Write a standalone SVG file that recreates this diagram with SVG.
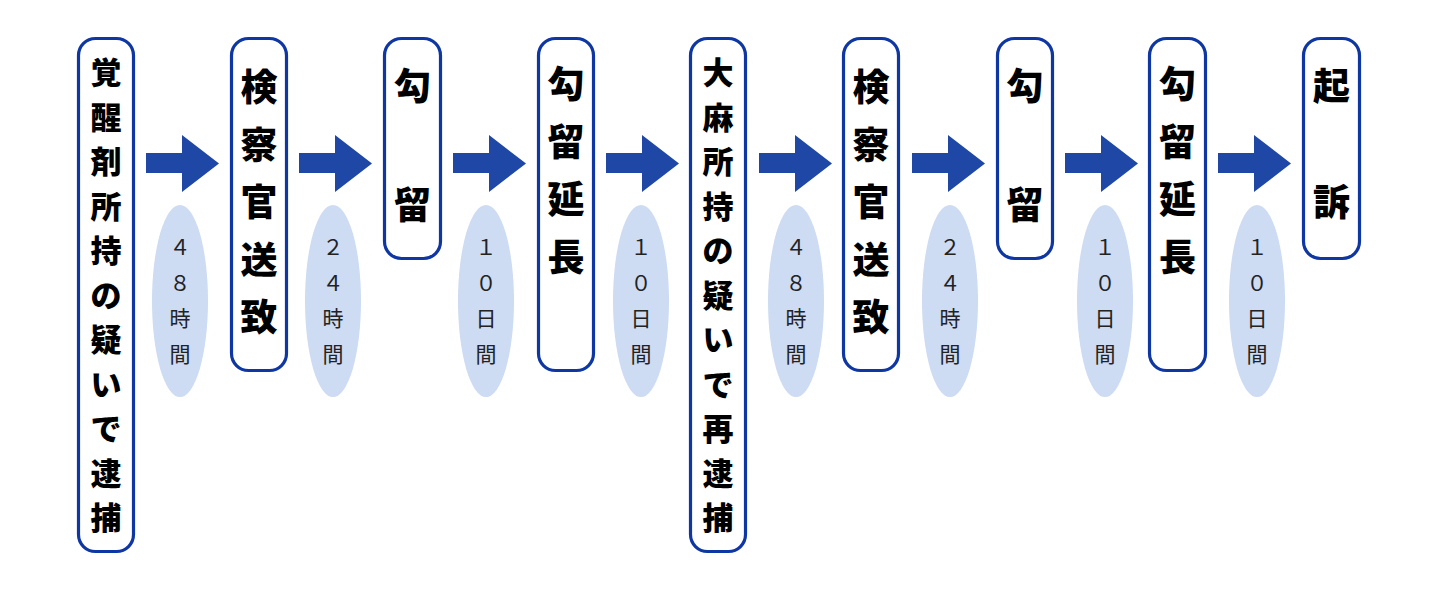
<svg xmlns="http://www.w3.org/2000/svg" width="1436" height="616" viewBox="0 0 1436 616">
<style>
.box{fill:#ffffff;stroke:#0f37a3;stroke-width:3.2}
.arrow{fill:#1f47a6}
.pill{fill:#cddbf3}
.big{font-family:"Noto Sans CJK JP","Noto Sans CJK SC",sans-serif;font-weight:900;fill:#000;text-anchor:middle;dominant-baseline:central}
.b31{font-size:31px}
.b37{font-size:37px}
.lab{font-family:"Noto Sans CJK JP","Noto Sans CJK SC",sans-serif;font-weight:400;font-size:21px;fill:#222;text-anchor:middle;dominant-baseline:central}
</style>
<rect width="1436" height="616" fill="#ffffff"/>
<g id="connectors">
  <g id="c1"><path class="arrow" d="M146,153 H182 V135 L219,163.5 L182,192 V173 H146 Z"/>
    <ellipse class="pill" cx="180" cy="301" rx="28" ry="96"/>
    <text class="lab"><tspan x="180" y="246">４</tspan><tspan x="180" y="281.5">８</tspan><tspan x="180" y="317">時</tspan><tspan x="180" y="352.5">間</tspan></text></g>
  <g id="c2"><path class="arrow" d="M299,153 H335 V135 L372,163.5 L335,192 V173 H299 Z"/>
    <ellipse class="pill" cx="333" cy="301" rx="28" ry="96"/>
    <text class="lab"><tspan x="333" y="246">２</tspan><tspan x="333" y="281.5">４</tspan><tspan x="333" y="317">時</tspan><tspan x="333" y="352.5">間</tspan></text></g>
  <g id="c3"><path class="arrow" d="M453,153 H489 V135 L526,163.5 L489,192 V173 H453 Z"/>
    <ellipse class="pill" cx="486" cy="301" rx="28" ry="96"/>
    <text class="lab"><tspan x="486" y="246">１</tspan><tspan x="486" y="281.5">０</tspan><tspan x="486" y="317">日</tspan><tspan x="486" y="352.5">間</tspan></text></g>
  <g id="c4"><path class="arrow" d="M606,153 H642 V135 L679,163.5 L642,192 V173 H606 Z"/>
    <ellipse class="pill" cx="641" cy="301" rx="28" ry="96"/>
    <text class="lab"><tspan x="641" y="246">１</tspan><tspan x="641" y="281.5">０</tspan><tspan x="641" y="317">日</tspan><tspan x="641" y="352.5">間</tspan></text></g>
  <g id="c5"><path class="arrow" d="M759,153 H795 V135 L832,163.5 L795,192 V173 H759 Z"/>
    <ellipse class="pill" cx="796" cy="301" rx="28" ry="96"/>
    <text class="lab"><tspan x="796" y="246">４</tspan><tspan x="796" y="281.5">８</tspan><tspan x="796" y="317">時</tspan><tspan x="796" y="352.5">間</tspan></text></g>
  <g id="c6"><path class="arrow" d="M912,153 H948 V135 L985,163.5 L948,192 V173 H912 Z"/>
    <ellipse class="pill" cx="950" cy="301" rx="28" ry="96"/>
    <text class="lab"><tspan x="950" y="246">２</tspan><tspan x="950" y="281.5">４</tspan><tspan x="950" y="317">時</tspan><tspan x="950" y="352.5">間</tspan></text></g>
  <g id="c7"><path class="arrow" d="M1065,153 H1101 V135 L1138,163.5 L1101,192 V173 H1065 Z"/>
    <ellipse class="pill" cx="1105" cy="301" rx="28" ry="96"/>
    <text class="lab"><tspan x="1105" y="246">１</tspan><tspan x="1105" y="281.5">０</tspan><tspan x="1105" y="317">日</tspan><tspan x="1105" y="352.5">間</tspan></text></g>
  <g id="c8"><path class="arrow" d="M1218,153 H1254 V135 L1291,163.5 L1254,192 V173 H1218 Z"/>
    <ellipse class="pill" cx="1257" cy="301" rx="28" ry="96"/>
    <text class="lab"><tspan x="1257" y="246">１</tspan><tspan x="1257" y="281.5">０</tspan><tspan x="1257" y="317">日</tspan><tspan x="1257" y="352.5">間</tspan></text></g>
</g>
<g id="n1"><rect class="box" x="78.5" y="38.5" width="55" height="513" rx="17"/>
  <text class="big b31"><tspan x="106" y="70">覚</tspan><tspan x="106" y="114.5">醒</tspan><tspan x="106" y="159">剤</tspan><tspan x="106" y="203.5">所</tspan><tspan x="106" y="248">持</tspan><tspan x="106" y="292.5">の</tspan><tspan x="106" y="337">疑</tspan><tspan x="106" y="381.5">い</tspan><tspan x="106" y="426">で</tspan><tspan x="106" y="470.5">逮</tspan><tspan x="106" y="515">捕</tspan></text></g>
<g id="n2"><rect class="box" x="231.5" y="38.5" width="55" height="332" rx="17"/>
  <text class="big b37"><tspan x="259" y="85">検</tspan><tspan x="259" y="142.5">察</tspan><tspan x="259" y="200">官</tspan><tspan x="259" y="257.5">送</tspan><tspan x="259" y="315">致</tspan></text></g>
<g id="n3"><rect class="box" x="384.5" y="38.5" width="56" height="220" rx="17"/>
  <text class="big b37"><tspan x="412.5" y="84">勾</tspan><tspan x="412.5" y="203">留</tspan></text></g>
<g id="n4"><rect class="box" x="538.5" y="38.5" width="55" height="332" rx="17"/>
  <text class="big b37"><tspan x="566" y="82">勾</tspan><tspan x="566" y="139.5">留</tspan><tspan x="566" y="197">延</tspan><tspan x="566" y="254.5">長</tspan></text></g>
<g id="n5"><rect class="box" x="690.5" y="38.5" width="55" height="513" rx="17"/>
  <text class="big b31"><tspan x="718" y="70">大</tspan><tspan x="718" y="114.5">麻</tspan><tspan x="718" y="159">所</tspan><tspan x="718" y="203.5">持</tspan><tspan x="718" y="248">の</tspan><tspan x="718" y="292.5">疑</tspan><tspan x="718" y="337">い</tspan><tspan x="718" y="381.5">で</tspan><tspan x="718" y="426">再</tspan><tspan x="718" y="470.5">逮</tspan><tspan x="718" y="515">捕</tspan></text></g>
<g id="n6"><rect class="box" x="843.5" y="38.5" width="55" height="332" rx="17"/>
  <text class="big b37"><tspan x="871" y="85">検</tspan><tspan x="871" y="142.5">察</tspan><tspan x="871" y="200">官</tspan><tspan x="871" y="257.5">送</tspan><tspan x="871" y="315">致</tspan></text></g>
<g id="n7"><rect class="box" x="997.5" y="38.5" width="55" height="220" rx="17"/>
  <text class="big b37"><tspan x="1025" y="84">勾</tspan><tspan x="1025" y="203">留</tspan></text></g>
<g id="n8"><rect class="box" x="1149.5" y="38.5" width="56" height="332" rx="17"/>
  <text class="big b37"><tspan x="1177.5" y="82">勾</tspan><tspan x="1177.5" y="139.5">留</tspan><tspan x="1177.5" y="197">延</tspan><tspan x="1177.5" y="254.5">長</tspan></text></g>
<g id="n9"><rect class="box" x="1303.5" y="38.5" width="56" height="220" rx="17"/>
  <text class="big b37"><tspan x="1331.5" y="84">起</tspan><tspan x="1331.5" y="200">訴</tspan></text></g>
</svg>
